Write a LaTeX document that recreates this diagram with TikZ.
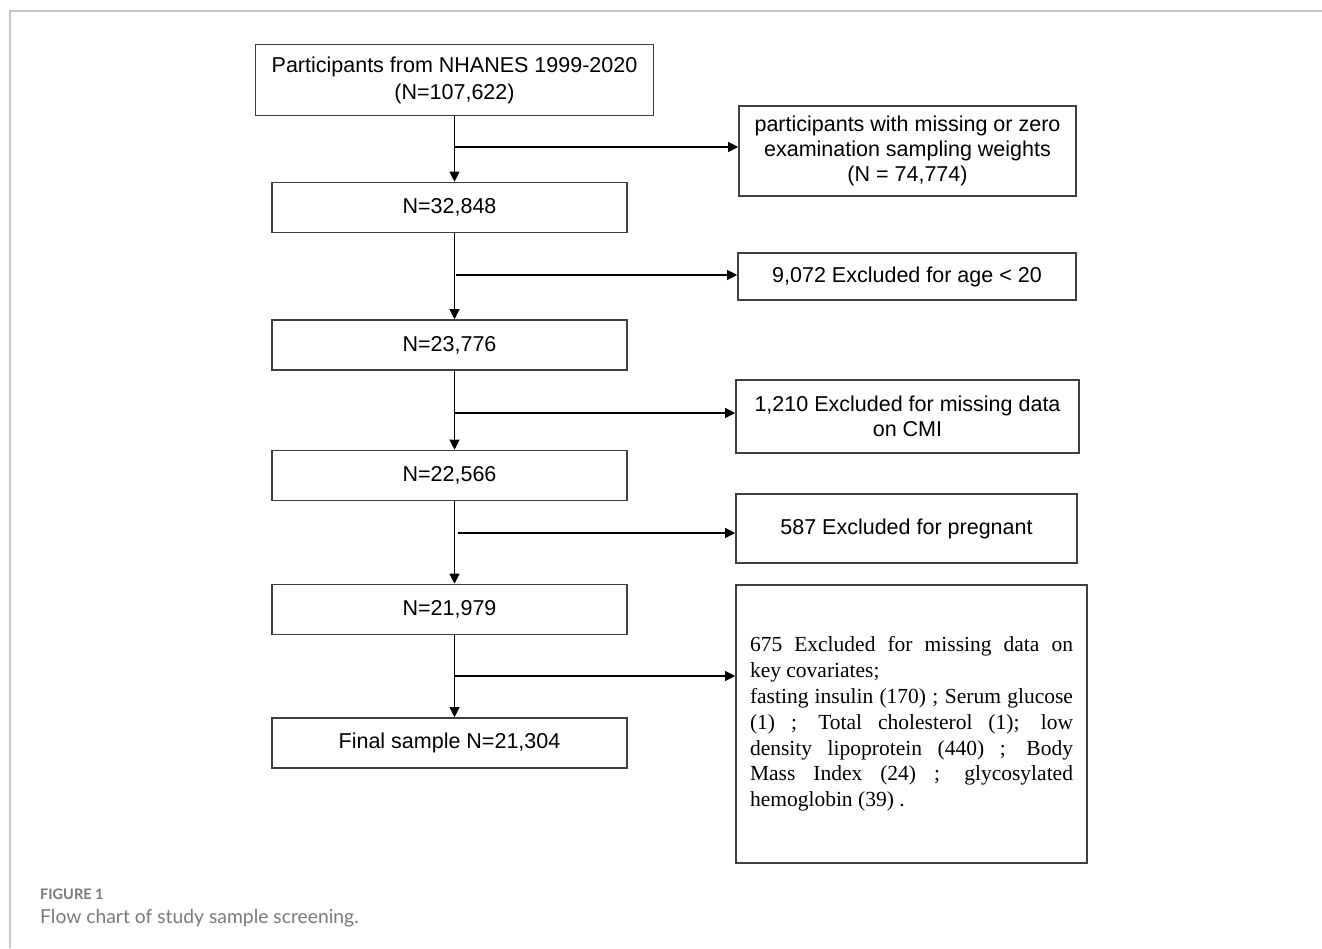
\documentclass[tikz,border=0pt]{standalone}
\usepackage{fontspec}
\setmainfont{Liberation Sans}
\newfontfamily\timesfont{Liberation Serif}
\newfontfamily\capfont{Lato}
\usepackage{tikz}
\usetikzlibrary{positioning}
\usetikzlibrary{arrows.meta}

\definecolor{boxgray}{HTML}{404040}
\definecolor{framegray}{HTML}{C8C8C8}
\definecolor{capgray}{HTML}{7A7A7A}

\newcommand{\jline}[1]{\makebox[323pt][s]{\spaceskip=0.25em plus 3em minus 0.08em\relax #1}}

\begin{document}
\begin{tikzpicture}[x=1pt,y=-1pt,
		box/.style = {draw=boxgray,line width=1.6pt,rectangle,inner sep=0pt,minimum width=355pt,minimum height=50pt,align=center,font=\fontsize{21.5}{27}\selectfont},
		side/.style = {draw=boxgray,line width=1.6pt,rectangle,inner sep=0pt,align=center,font=\fontsize{21.5}{25}\selectfont},
		arr/.style = {black,line width=1.1pt,-{Triangle[length=10pt,width=10pt]}}]
		\useasboundingbox (0,0) rectangle (1322,948);
		\draw[framegray,line width=1.5pt] (10,948) -- (10,11) -- (1322,11);

		% main column
		\node[box,minimum width=398pt,minimum height=71pt] at (454.5,80) (top)
		{Participants from NHANES 1999-2020\\(N=107,622)};
		\node[box] at (449.5,207.5) (n1) {N=32,848};
		\node[box] at (449.5,345) (n2) {N=23,776};
		\node[box] at (449.5,475.5) (n3) {N=22,566};
		\node[box] at (449.5,609.5) (n4) {N=21,979};
		\node[box] at (449.5,743) (fin) {Final sample N=21,304};

		% exclusions
		\node[side,minimum width=337pt,minimum height=90pt] at (907.5,151) (ex1)
		{participants with missing or zero\\examination sampling weights\\(N = 74,774)};
		\node[side,minimum width=338pt,minimum height=47pt] at (907,276.5) (ex2)
		{9,072 Excluded for age < 20};
		\node[side,minimum width=343pt,minimum height=73pt] at (907.5,416.5) (ex3)
		{1,210 Excluded for missing data\\on CMI};
		\node[side,minimum width=341pt,minimum height=69pt] at (906.5,528.5) (ex4)
		{587 Excluded for pregnant};
		\node[side,minimum width=351pt,minimum height=278pt,text width=323pt,align=justify,font=\timesfont\fontsize{21.5}{25.8}\selectfont] at (911.5,724) (ex5)
		{\noindent\jline{675 Excluded for missing data on}\\
			key covariates;\\
			\jline{fasting insulin (170) ; Serum glucose}\\
			\jline{(1) ; Total cholesterol (1); low}\\
			\jline{density lipoprotein (440) ; Body}\\
			\jline{Mass Index (24) ; glycosylated}\\
			hemoglobin (39) .};

		\coordinate (b1) at (454.5,147);
		\coordinate (b2) at (456,275);
		\coordinate (b3) at (454.5,413);
		\coordinate (b4) at (458,533);
		\coordinate (b5) at (454.5,676);

		\draw[arr] (top.south) -- (top.south |- n1.north);
		\draw[arr] (n1.south -| top.south) -- (n2.north -| top.south);
		\draw[arr] (n2.south -| top.south) -- (n3.north -| top.south);
		\draw[arr] (n3.south -| top.south) -- (n4.north -| top.south);
		\draw[arr] (n4.south -| top.south) -- (fin.north -| top.south);

		\draw[arr] (b1) -- (b1 -| ex1.west);
		\draw[arr] (b2) -- (b2 -| ex2.west);
		\draw[arr] (b3) -- (b3 -| ex3.west);
		\draw[arr] (b4) -- (b4 -| ex4.west);
		\draw[arr] (b5) -- (b5 -| ex5.west);

		% caption
		\node[anchor=base west,inner sep=0pt,text=capgray,font=\capfont\bfseries\fontsize{14.5}{16}\selectfont] at (40,899) (figlab) {FIGURE 1};
		\node[anchor=base west,inner sep=0pt,text=capgray,font=\capfont\fontsize{19.3}{21}\selectfont] at (40,923) (figcap) {Flow chart of study sample screening.};
	\end{tikzpicture}
\end{document}
